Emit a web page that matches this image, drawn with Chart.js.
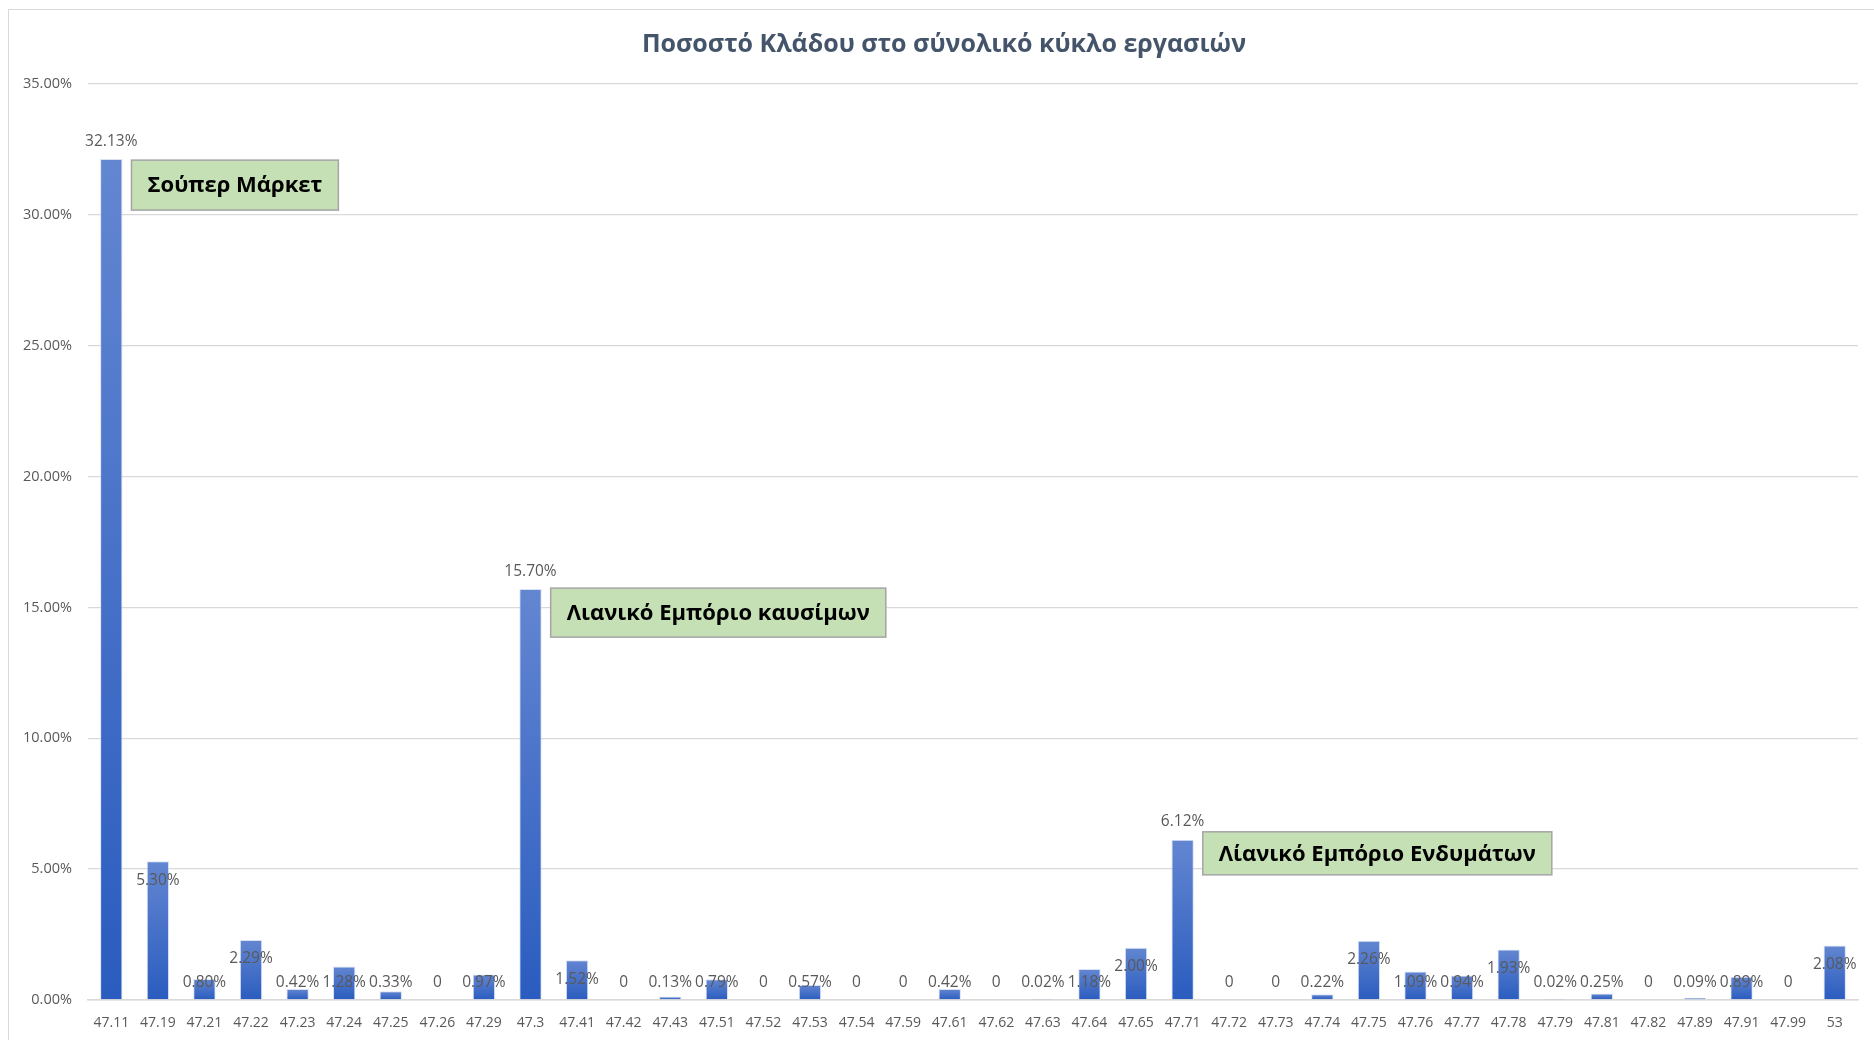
<!DOCTYPE html>
<html>
<head>
<meta charset="utf-8">
<title>Ποσοστό Κλάδου</title>
<script src="https://cdn.jsdelivr.net/npm/chart.js@4.4.1/dist/chart.umd.min.js"></script>
<style>
    html, body { margin: 0; padding: 0; background: #fff; overflow: hidden; }
    .chart-box {
        position: absolute; left: 8px; top: 9px;
        width: 1880px; height: 1040px;
        border: 1px solid #d9d9d9; box-sizing: border-box;
    }
    canvas { display: block; }
</style>
</head>
<body>
<div class="chart-box"><canvas id="sectorChart" width="1878" height="1038"></canvas></div>
<script>
// ========== DATA ==========
const codes = [
    '47.11', '47.19', '47.21', '47.22', '47.23', '47.24', '47.25', '47.26', '47.29', '47.3',
    '47.41', '47.42', '47.43', '47.51', '47.52', '47.53', '47.54', '47.59', '47.61', '47.62',
    '47.63', '47.64', '47.65', '47.71', '47.72', '47.73', '47.74', '47.75', '47.76', '47.77',
    '47.78', '47.79', '47.81', '47.82', '47.89', '47.91', '47.99', '53'
];
// share of total turnover, in %
const shares = [
    32.13, 5.30, 0.80, 2.29, 0.42, 1.28, 0.33, 0, 0.97, 15.70,
    1.52, 0, 0.13, 0.79, 0, 0.57, 0, 0, 0.42, 0,
    0.02, 1.18, 2.00, 6.12, 0, 0, 0.22, 2.26, 1.09, 0.94,
    1.93, 0.02, 0.25, 0, 0.09, 0.89, 0, 2.08
];
const yMax = 35;
const yStep = 5;
const chartTitle = 'Ποσοστό Κλάδου στο σύνολικό κύκλο εργασιών';
const calloutCodes = ['47.11', '47.3', '47.71'];
const calloutTexts = ['Σούπερ Μάρκετ', 'Λιανικό Εμπόριο καυσίμων', 'Λίανικό Εμπόριο Ενδυμάτων'];

const LABEL_COLOR = '#595959';
const GRID_COLOR = '#d9d9d9';

// one vertical gradient per bar, light at the top, deep blue at the base
function barFill(ctx) {
    const chart = ctx.chart;
    if (!chart.chartArea || ctx.type !== 'data') return '#4472c4';
    const y = chart.scales.y;
    const top = y.getPixelForValue(ctx.raw);
    const base = y.getPixelForValue(0);
    if (base - top < 1) return '#3a67c4';
    const g = chart.ctx.createLinearGradient(0, top, 0, base);
    g.addColorStop(0, '#6386d1');
    g.addColorStop(1, '#2a5cbf');
    return g;
}

// title drawn by hand so it can sit centred on the whole frame
const frameTitle = {
    id: 'frameTitle',
    afterDraw(chart, args, opts) {
        const { ctx } = chart;
        ctx.save();
        ctx.font = 'bold 25px "Open Sans", sans-serif';
        ctx.fillStyle = '#44546a';
        ctx.textAlign = 'center';
        ctx.textBaseline = 'middle';
        ctx.fillText(chartTitle, opts.x, opts.y);
        ctx.restore();
    }
};

// value labels: above the three highlighted bars, inside the top of the others
const barLabels = {
    id: 'barLabels',
    afterDatasetsDraw(chart) {
        const { ctx, scales: { y } } = chart;
        const base = y.getPixelForValue(0);
        const meta = chart.getDatasetMeta(0);
        ctx.save();
        ctx.font = '15.5px "Open Sans", sans-serif';
        ctx.fillStyle = LABEL_COLOR;
        ctx.textAlign = 'center';
        ctx.textBaseline = 'middle';
        meta.data.forEach((bar, i) => {
            const v = shares[i];
            const txt = v === 0 ? '0' : v.toFixed(2) + '%';
            const cy = calloutCodes.includes(codes[i])
                ? bar.y - 18
                : Math.min(bar.y + 19, base - 17);
            ctx.fillText(txt, bar.x, cy);
        });
        ctx.restore();
    }
};

// green text boxes next to the main sectors
const callouts = {
    id: 'callouts',
    afterDatasetsDraw(chart, args, opts) {
        const { ctx } = chart;
        const meta = chart.getDatasetMeta(0);
        ctx.save();
        ctx.font = 'bold 22px "Open Sans", sans-serif';
        ctx.textBaseline = 'middle';
        ctx.textAlign = 'left';
        calloutCodes.forEach((code, k) => {
            const bar = meta.data[codes.indexOf(code)];
            const box = opts.boxes[k];
            const left = bar.x + bar.width / 2 + 9;
            const top = bar.y + box.dy;
            const w = ctx.measureText(calloutTexts[k]).width + 32;
            ctx.fillStyle = '#c5e0b4';
            ctx.fillRect(left, top, w, box.h);
            ctx.strokeStyle = '#a5a5a5';
            ctx.lineWidth = 1.5;
            ctx.strokeRect(left, top, w, box.h);
            ctx.fillStyle = '#000';
            ctx.fillText(calloutTexts[k], left + 16, top + box.h / 2 + 1);
        });
        ctx.restore();
    }
};

const canvas = document.getElementById('sectorChart');
new Chart(canvas, {
    type: 'bar',
    data: {
        labels: codes,
        datasets: [{
            label: 'Ποσοστό',
            data: shares,
            backgroundColor: barFill,
            borderColor: 'rgba(200,214,240,0.7)',
            borderWidth: 1,
            barPercentage: 0.48,
            categoryPercentage: 1
        }]
    },
    options: {
        responsive: false,
        animation: false,
        layout: { padding: { left: 0, right: 29, top: 74, bottom: 0 } },
        plugins: {
            legend: { display: false },
            tooltip: { enabled: false },
            title: { display: false },
            frameTitle: { x: 935, y: 35 },
            callouts: {
                boxes: [
                    { dy: 1, h: 50 },
                    { dy: -1, h: 49 },
                    { dy: -8, h: 43 }
                ]
            }
        },
        scales: {
            x: {
                grid: { display: false, drawTicks: false },
                border: { display: true, color: GRID_COLOR, width: 1.5 },
                ticks: {
                    color: LABEL_COLOR,
                    font: { family: '"Open Sans", sans-serif', size: 14 },
                    autoSkip: false,
                    maxRotation: 0,
                    padding: 15
                },
                afterFit: scale => { scale.height = 48; }
            },
            y: {
                min: 0,
                max: yMax,
                grid: { color: GRID_COLOR, lineWidth: 1.3, drawTicks: false },
                border: { display: false },
                ticks: {
                    stepSize: yStep,
                    color: LABEL_COLOR,
                    font: { family: '"Open Sans", sans-serif', size: 14.5 },
                    padding: 16,
                    callback: v => v.toFixed(2) + '%'
                },
                afterFit: scale => { scale.width = 79; }
            }
        }
    },
    plugins: [barLabels, callouts, frameTitle]
});
</script>
</body>
</html>
